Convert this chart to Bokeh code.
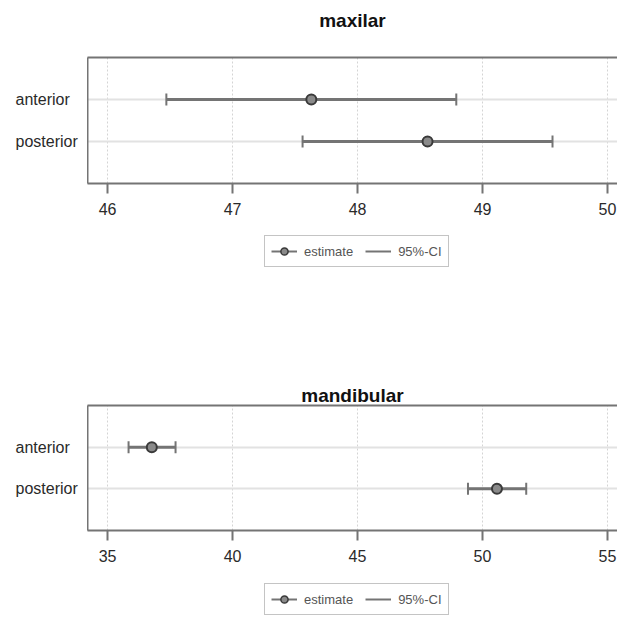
from bokeh.plotting import figure
from bokeh.models import (ColumnDataSource, Whisker, TeeHead, Legend, LegendItem,
                          FixedTicker, Range1d, LinearAxis)
from bokeh.core.properties import value
from bokeh.layouts import column, row
from bokeh.embed import file_html
from bokeh.resources import INLINE

# ---- data ----
groups = ["anterior", "posterior"]
group_pos = [2, 1]

maxilar_est = [47.63, 48.56]
maxilar_lo = [46.47, 47.56]
maxilar_hi = [48.79, 49.56]
maxilar_ticks = [46, 47, 48, 49, 50]

mandibular_est = [36.77, 50.58]
mandibular_lo = [35.84, 49.42]
mandibular_hi = [37.72, 51.75]
mandibular_ticks = [35, 40, 45, 50, 55]

legend_labels = ["estimate", "95%-CI"]

FONT = "Liberation Sans"
FRAME_COL = "#747474"
CI_COL = "#747474"
PT_FILL = "#8a8a8a"
PT_LINE = "#3a3a3a"
TEXT_COL = "#2a2a2a"
LAB_W = 87
MAIN_W = 530
TOTAL_W = LAB_W + MAIN_W
LABEL_X = 15


def make_panel(title, est, lo, hi, ticks, x_start, x_end, height, top, bottom,
               title_standoff):
    src = ColumnDataSource(dict(y=group_pos, est=est, lo=lo, hi=hi, name=groups))
    yr = Range1d(0, 3)
    p = figure(width=MAIN_W, height=height, output_backend="svg", toolbar_location=None,
               x_range=Range1d(x_start, x_end), y_range=yr,
               min_border_left=0, min_border_right=0, min_border_top=top,
               min_border_bottom=bottom)
    p.outline_line_color = None

    p.xaxis.ticker = FixedTicker(ticks=ticks)
    p.xaxis.axis_line_color = FRAME_COL
    p.xaxis.axis_line_width = 2
    p.xaxis.major_tick_line_color = FRAME_COL
    p.xaxis.major_tick_line_width = 2
    p.xaxis.major_tick_out = 10
    p.xaxis.major_tick_in = 0
    p.xaxis.minor_tick_line_color = None
    p.xaxis.minor_tick_out = 0
    p.xaxis.major_label_standoff = 9
    p.xaxis.major_label_text_font = FONT
    p.xaxis.major_label_text_font_size = "16px"
    p.xaxis.major_label_text_color = TEXT_COL

    p.yaxis.ticker = FixedTicker(ticks=[])
    p.yaxis.axis_line_color = FRAME_COL
    p.yaxis.axis_line_width = 2
    p.yaxis.major_tick_line_color = None
    p.yaxis.minor_tick_line_color = None
    p.yaxis.major_tick_out = 2
    p.yaxis.major_tick_in = 0
    p.yaxis.minor_tick_out = 0
    p.yaxis.minor_tick_in = 0
    p.yaxis.major_label_text_font_size = "0px"
    p.yaxis.major_label_standoff = 0

    top_axis = LinearAxis(ticker=FixedTicker(ticks=[]), axis_line_color=FRAME_COL,
                          axis_line_width=2, major_label_text_font_size="0px",
                          major_label_standoff=0, major_tick_out=0, major_tick_in=0,
                          minor_tick_out=0, minor_tick_in=0,
                          major_tick_line_color=None, minor_tick_line_color=None,
                          axis_label=title, axis_label_standoff=title_standoff,
                          axis_label_text_font=FONT,
                          axis_label_text_font_size="19px",
                          axis_label_text_font_style="bold",
                          axis_label_text_color="#111111")
    p.add_layout(top_axis, "above")

    p.xgrid.ticker = FixedTicker(ticks=ticks)
    p.xgrid.grid_line_color = "#d4d4d4"
    p.xgrid.grid_line_dash = "2 2"
    p.ygrid.ticker = FixedTicker(ticks=group_pos)
    p.ygrid.grid_line_color = "#e2e2e2"
    p.ygrid.grid_line_width = 2

    p.segment(x0="lo", x1="hi", y0="y", y1="y", source=src,
              line_color=CI_COL, line_width=3)
    wh = Whisker(base="y", lower="lo", upper="hi", dimension="width", source=src,
                 line_alpha=0,
                 upper_head=TeeHead(size=12, line_color=CI_COL, line_width=2),
                 lower_head=TeeHead(size=12, line_color=CI_COL, line_width=2))
    p.add_layout(wh)
    p.scatter(x="est", y="y", source=src, size=10, fill_color=PT_FILL,
              line_color=PT_LINE, line_width=2)

    # category labels, left aligned, in a side figure sharing the y range
    lab = figure(width=LAB_W, height=height, output_backend="svg",
                 toolbar_location=None, x_range=Range1d(0, LAB_W), y_range=yr,
                 min_border_left=0, min_border_right=0, min_border_top=top,
                 min_border_bottom=bottom)
    lab.axis.visible = False
    lab.grid.visible = False
    lab.outline_line_color = None
    lab.text(x=[LABEL_X] * len(groups), y=group_pos, text=groups,
             text_font=value(FONT), text_font_size="16px", text_color=TEXT_COL,
             text_baseline="middle", text_align="left")
    return row(lab, p, spacing=0)


def make_legend(height, loc):
    q = figure(width=TOTAL_W, height=height, output_backend="svg",
               toolbar_location=None, x_range=Range1d(0, 1), y_range=Range1d(0, 1),
               min_border=0, min_border_left=0, min_border_right=0,
               min_border_top=0, min_border_bottom=0)
    q.axis.visible = False
    q.grid.visible = False
    q.outline_line_color = None
    # key-only renderers: no visible data, only their legend glyphs are shown
    nan = float("nan")
    key_src = ColumnDataSource(dict(x=[nan], y=[nan]))
    ln = q.line(x="x", y="y", source=key_src, line_color=CI_COL, line_width=2)
    pt = q.scatter(x="x", y="y", source=key_src, size=7, fill_color=PT_FILL,
                   line_color=PT_LINE, line_width=1.5)
    lg = Legend(items=[LegendItem(label=legend_labels[0], renderers=[ln, pt]),
                       LegendItem(label=legend_labels[1], renderers=[ln])],
                orientation="horizontal", location=loc, margin=0,
                border_line_color="#8a8a8a", border_line_width=1.5,
                label_text_font=FONT, label_text_font_size="13px",
                label_text_color="#555555", glyph_width=26, glyph_height=18,
                label_height=18, padding=6, spacing=12, label_standoff=7,
                background_fill_alpha=1)
    q.add_layout(lg)
    return q


r1 = make_panel("maxilar", maxilar_est, maxilar_lo, maxilar_hi, maxilar_ticks,
                45.839, 50.080, 223, 57, 40, 27)
l1 = make_legend(58, (264, 14))
r2 = make_panel("mandibular", mandibular_est, mandibular_lo, mandibular_hi,
                mandibular_ticks, 34.197, 55.402, 289, 124, 40, 0)
l2 = make_legend(49, (264, 4))

layout = column(r1, l1, r2, l2, spacing=0)
open("out.html", "w").write(file_html(layout, INLINE))
